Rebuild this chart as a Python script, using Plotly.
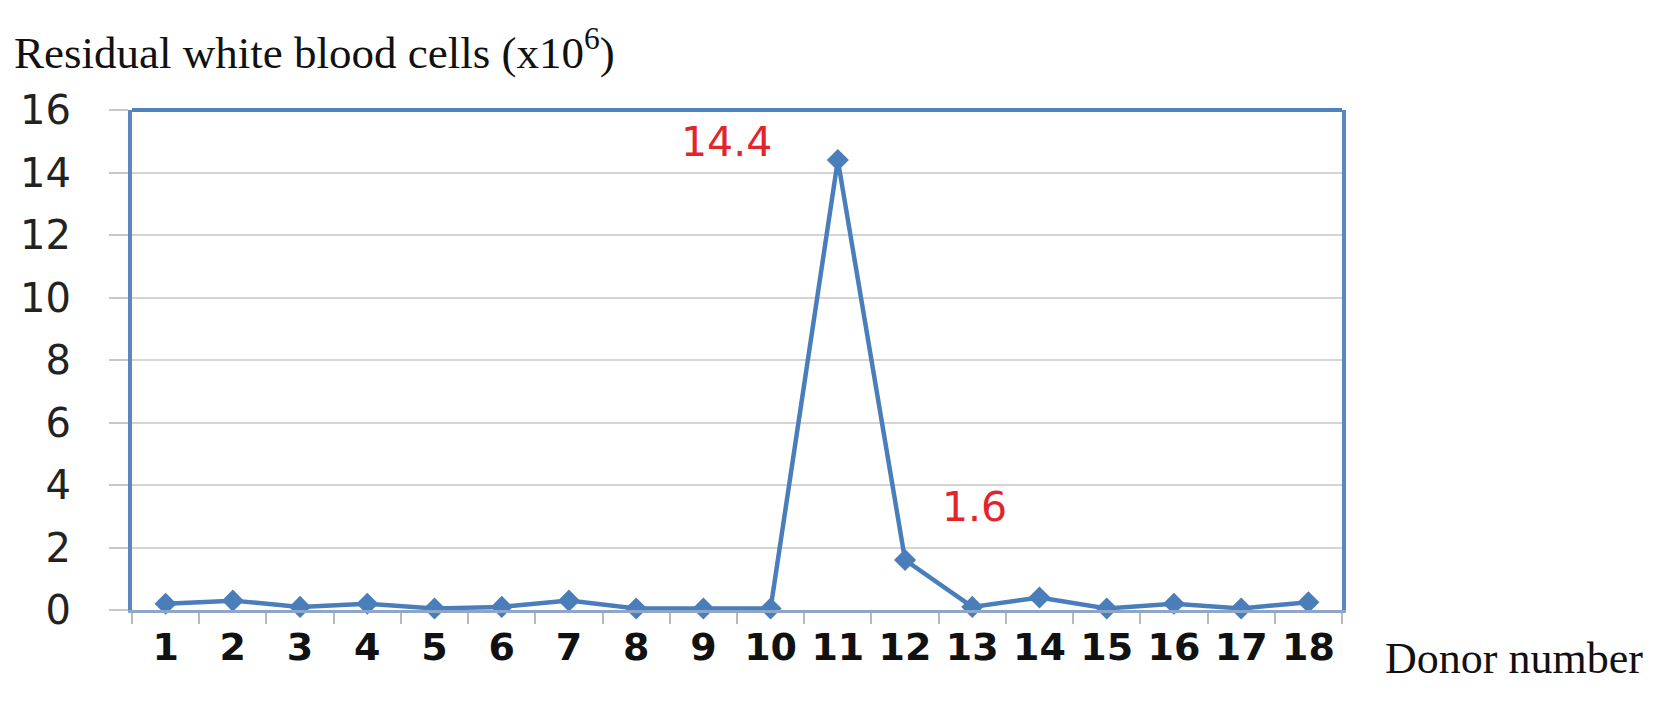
import plotly.graph_objects as go

donors = [str(i) for i in range(1, 19)]
wbc = [0.2, 0.3, 0.1, 0.2, 0.05, 0.1, 0.3, 0.05, 0.05, 0.05, 14.4, 1.6, 0.1, 0.4, 0.05, 0.2, 0.05, 0.25]
y_ticks = [0, 2, 4, 6, 8, 10, 12, 14, 16]
labels = [("14.4", 8.34, 14.98), ("1.6", 12.03, 3.3)]

W, H = 1670, 725
L, R, T, B = 122, 1334, 102, 602

BLUE = "#4A7EBB"
fig = go.Figure()
fig.add_trace(go.Scatter(
    x=donors, y=wbc, mode="lines+markers",
    line=dict(color=BLUE, width=4.5),
    marker=dict(symbol="diamond", size=17, color=BLUE),
    showlegend=False, cliponaxis=False,
))

for txt, xv, yv in labels:
    fig.add_annotation(x=xv, y=yv, xref="x", yref="y", text=txt, showarrow=False,
                       font=dict(family="DejaVu Sans", size=41, color="#E3242B"),
                       xanchor="center", yanchor="middle")

fig.add_annotation(x=(1375 - L) / (R - L), y=(B - 650) / (B - T), xref="paper", yref="paper",
                   text="Donor number", showarrow=False, xanchor="left", yanchor="middle",
                   font=dict(family="Liberation Serif", size=44, color="#111111"))

fig.add_shape(type="line", xref="paper", yref="paper", x0=0, x1=1, y0=1, y1=1,
              line=dict(color="#4F81BD", width=4))

fig.update_layout(
    width=W, height=H,
    margin=dict(l=L, r=W - R, t=T, b=H - B, pad=0),
    paper_bgcolor="white", plot_bgcolor="white",
    title=dict(text="Residual white blood cells (x10<sup>6</sup>)", x=6 / W, xanchor="left",
               xref="container", yref="container", y=1 - 44 / H, yanchor="middle",
               font=dict(family="Liberation Serif", size=45, color="#111111")),
    xaxis=dict(type="category", range=[-0.5, 17.5], tickson="boundaries",
               ticks="outside", ticklen=11, tickwidth=2, tickcolor="#B8B8B8",
               showline=True, linecolor="#8FA6C8", linewidth=3,
               showgrid=False, zeroline=False,
               tickfont=dict(family="DejaVu Sans", size=38, color="#111111", weight="bold"),
               ticklabelstandoff=1),
    yaxis=dict(range=[0, 16], tickvals=y_ticks, ticks="outside", ticklen=19, tickwidth=2,
               tickcolor="#C8C8C8", showline=True, mirror=True, linecolor="#5C86BF", linewidth=4,
               showgrid=True, gridcolor="#D4D4D4", gridwidth=2, zeroline=False,
               tickfont=dict(family="DejaVu Sans", size=40, color="#222222"),
               ticklabelstandoff=30),
)

fig.write_html("out.html")
